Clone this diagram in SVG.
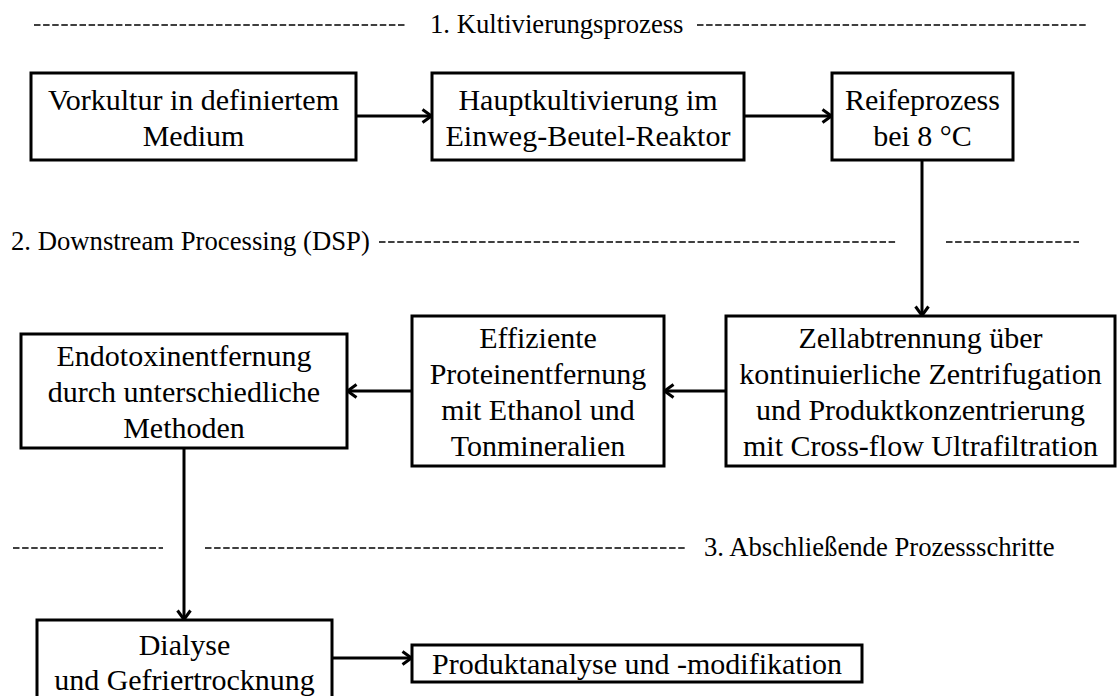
<svg xmlns="http://www.w3.org/2000/svg" width="1117" height="696" viewBox="0 0 1117 696">
<style>
  .box { fill: #fff; stroke: #000; stroke-width: 3; }
  .t { font-family: "Liberation Serif", "Times New Roman", serif; font-size: 30px; fill: #000; text-anchor: middle; }
  .lbl { font-family: "Liberation Serif", "Times New Roman", serif; font-size: 26.7px; fill: #000; }
  .dash { stroke: #000; stroke-width: 1.6; stroke-dasharray: 6.5 2.6; fill: none; }
  .conn { stroke: #000; stroke-width: 3; fill: none; marker-end: url(#arr); }
</style>
<defs>
  <marker id="arr" viewBox="0 0 12 16" refX="11" refY="8" markerWidth="12" markerHeight="16" markerUnits="userSpaceOnUse" orient="auto">
    <path d="M1.5,1.5 L10.5,8 L1.5,14.5" fill="none" stroke="#000" stroke-width="3"/>
  </marker>
</defs>
<rect width="1117" height="696" fill="#fff"/>

<g id="section-labels">
  <line class="dash" x1="34" y1="25" x2="407" y2="25"/>
  <text class="lbl" x="430" y="33">1. Kultivierungsprozess</text>
  <line class="dash" x1="697" y1="25" x2="1086" y2="25"/>

  <text class="lbl" x="11" y="250">2. Downstream Processing (DSP)</text>
  <line class="dash" x1="379" y1="242" x2="897" y2="242"/>
  <line class="dash" x1="946" y1="242" x2="1079" y2="242"/>

  <line class="dash" x1="13" y1="548" x2="163" y2="548"/>
  <line class="dash" x1="205" y1="548" x2="686" y2="548"/>
  <text class="lbl" x="704" y="556">3. Abschließende Prozessschritte</text>
</g>

<g id="connectors">
  <line class="conn" x1="356" y1="116" x2="432" y2="116"/>
  <line class="conn" x1="744" y1="116" x2="832" y2="116"/>
  <line class="conn" x1="922" y1="160" x2="922" y2="316"/>
  <line class="conn" x1="726" y1="391" x2="664" y2="391"/>
  <line class="conn" x1="412" y1="391" x2="347" y2="391"/>
  <line class="conn" x1="184" y1="448" x2="184" y2="620"/>
  <line class="conn" x1="332" y1="658" x2="412" y2="658"/>
</g>

<g id="vorkultur">
  <rect class="box" x="31" y="73" width="325" height="87"/>
  <text class="t" x="193.5" y="109.5">Vorkultur in definiertem</text>
  <text class="t" x="193.5" y="145.5">Medium</text>
</g>

<g id="hauptkultivierung">
  <rect class="box" x="432" y="73" width="312" height="87"/>
  <text class="t" x="588" y="109.5">Hauptkultivierung im</text>
  <text class="t" x="588" y="145.5">Einweg-Beutel-Reaktor</text>
</g>

<g id="reifeprozess">
  <rect class="box" x="832" y="73" width="181" height="87"/>
  <text class="t" x="922.5" y="109.5">Reifeprozess</text>
  <text class="t" x="922.5" y="145.5">bei 8 °C</text>
</g>

<g id="zellabtrennung">
  <rect class="box" x="726" y="316" width="389" height="150"/>
  <text class="t" x="920.5" y="348">Zellabtrennung über</text>
  <text class="t" x="920.5" y="384">kontinuierliche Zentrifugation</text>
  <text class="t" x="920.5" y="420">und Produktkonzentrierung</text>
  <text class="t" x="920.5" y="456">mit Cross-flow Ultrafiltration</text>
</g>

<g id="proteinentfernung">
  <rect class="box" x="412" y="316" width="252" height="150"/>
  <text class="t" x="538" y="348">Effiziente</text>
  <text class="t" x="538" y="384">Proteinentfernung</text>
  <text class="t" x="538" y="420">mit Ethanol und</text>
  <text class="t" x="538" y="456">Tonmineralien</text>
</g>

<g id="endotoxinentfernung">
  <rect class="box" x="21" y="334" width="326" height="114"/>
  <text class="t" x="184" y="366">Endotoxinentfernung</text>
  <text class="t" x="184" y="402">durch unterschiedliche</text>
  <text class="t" x="184" y="438">Methoden</text>
</g>

<g id="dialyse">
  <rect class="box" x="37" y="620" width="295" height="100"/>
  <text class="t" x="184.5" y="655">Dialyse</text>
  <text class="t" x="184.5" y="690">und Gefriertrocknung</text>
</g>

<g id="produktanalyse">
  <rect class="box" x="412" y="645" width="450" height="37"/>
  <text class="t" x="637" y="674">Produktanalyse und -modifikation</text>
</g>
</svg>
